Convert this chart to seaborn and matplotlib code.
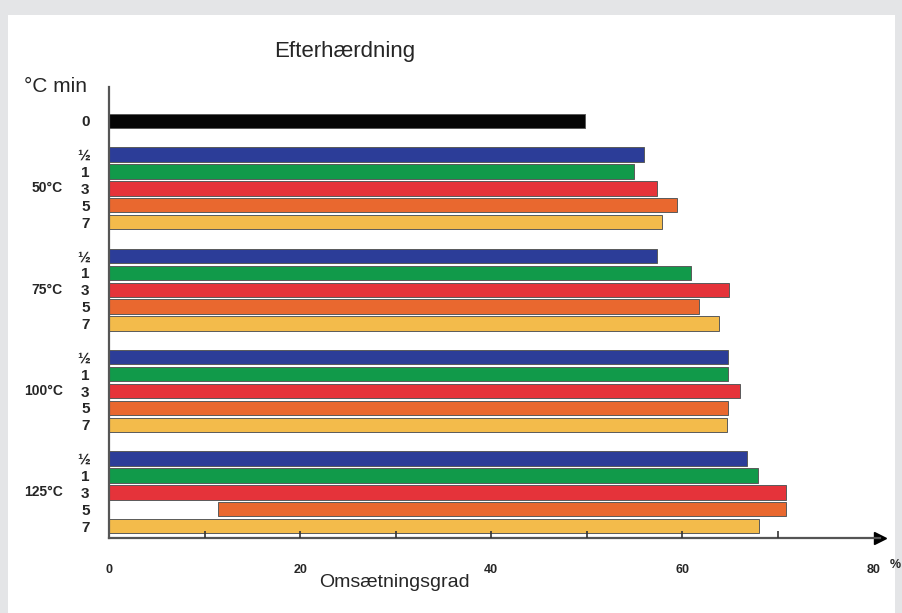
import matplotlib
matplotlib.use("Agg")
import matplotlib.pyplot as plt
import seaborn as sns
import pandas as pd
from matplotlib.patches import Rectangle

# Værdier (Omsætningsgrad i %)
grupper = ['50°C', '75°C', '100°C', '125°C']
tider = ['½', '1', '3', '5', '7']
uden_efterhaerdning = 49.8
v50 = [56.0, 54.9, 57.4, 59.5, 57.9]
v75 = [57.4, 60.9, 64.9, 61.8, 63.9]
v100 = [64.8, 64.8, 66.0, 64.8, 64.7]
v125 = [66.8, 67.9, 70.9, 70.9, 68.0]
start_125_5 = 11.4  # orange bjælke ved 125°C / 5 min starter ikke ved 0

farver = {'0': '#050505', '½': '#2c3d98', '1': '#119a4a',
          '3': '#e5333a', '5': '#e9682f', '7': '#f3bb4b'}

# Byg tabel: en række pr. bjælke, med en tom plads mellem grupperne
rows = [{'slot': 0, 'tid': '0', 'værdi': uden_efterhaerdning}]
slot = 2
gruppe_midte = []
for g, vals in zip(grupper, [v50, v75, v100, v125]):
    gruppe_midte.append(slot + 2)
    for t, v in zip(tider, vals):
        rows.append({'slot': slot, 'tid': t, 'værdi': v})
        slot += 1
    slot += 1
df = pd.DataFrame(rows)

sns.set_style('white')
plt.rcParams['font.family'] = ['Liberation Sans', 'DejaVu Sans']

fig = plt.figure(figsize=(9.03, 6.13), dpi=100)
fig.patch.set_facecolor('#e4e5e7')
fig.patches.append(Rectangle((8 / 903, 0), 887 / 903, 598 / 613,
                             transform=fig.transFigure, facecolor='white',
                             edgecolor='none', zorder=-10))
ax = fig.add_axes([109 / 903, 1 - 538 / 613, 771 / 903, 451 / 613])
ax.set_zorder(5)
ax.set_facecolor('white')
ax.set_axisbelow(False)

sns.barplot(data=df, x='værdi', y='slot', hue='tid', palette=farver,
            orient='h', native_scale=True, dodge=False, legend=False,
            errorbar=None, width=0.85, saturation=1,
            edgecolor='#5a5a5a', linewidth=0.7, ax=ax)

# 125°C / 5 min: flyt bjælkens start
slot_125_5 = df[(df['slot'] >= gruppe_midte[3] - 2) & (df['tid'] == '5')]['slot'].iloc[0]
for p in ax.patches:
    if abs(p.get_y() + p.get_height() / 2 - slot_125_5) < 0.1:
        p.set_width(p.get_width() - start_125_5)
        p.set_x(start_125_5)

ax.set_xlim(0, 80.7)
ax.set_ylim(24.7, -2.0)
sns.despine(ax=ax)
for s in ['left', 'bottom']:
    ax.spines[s].set_color('#555555')
    ax.spines[s].set_linewidth(1.6)

ax.set_xticks([0, 20, 40, 60, 80])
ax.set_xticklabels(['0', '20', '40', '60', '80'], fontsize=9, fontweight='bold')
ax.set_xticks([10, 30, 50, 70], minor=True)
ax.tick_params(axis='x', which='both', bottom=True, direction='in', length=5,
               width=1.2, color='#333333', pad=19)
for i in (0, -1):
    ax.xaxis.get_major_ticks()[i].tick1line.set_visible(False)
ax.set_yticks(df['slot'])
ax.set_yticklabels(df['tid'], fontsize=11, fontweight='bold')
ax.tick_params(axis='y', length=0, pad=14)
ax.set_xlabel('Omsætningsgrad', fontsize=14, labelpad=2)
ax.xaxis.set_label_coords(0.37, -0.08)
ax.set_ylabel('')

for g, m in zip(grupper, gruppe_midte):
    ax.text(-0.06, m, g, transform=ax.get_yaxis_transform(), ha='right',
            va='center', fontsize=10, fontweight='bold')

ax.plot(1, 0, '>k', markersize=8, transform=ax.transAxes, clip_on=False)
ax.text(1.013, -0.06, '%', transform=ax.transAxes, ha='left', va='center',
        fontsize=9, fontweight='bold')
ax.text(-0.11, 1.0, '°C min', transform=ax.transAxes, ha='left', va='center',
        fontsize=15, fontweight='medium')
fig.text(345 / 903, 1 - 52 / 613, 'Efterhærdning', ha='center', va='center',
         fontsize=16, fontweight='medium')

fig.savefig('out.png', dpi=100, facecolor=fig.get_facecolor())
